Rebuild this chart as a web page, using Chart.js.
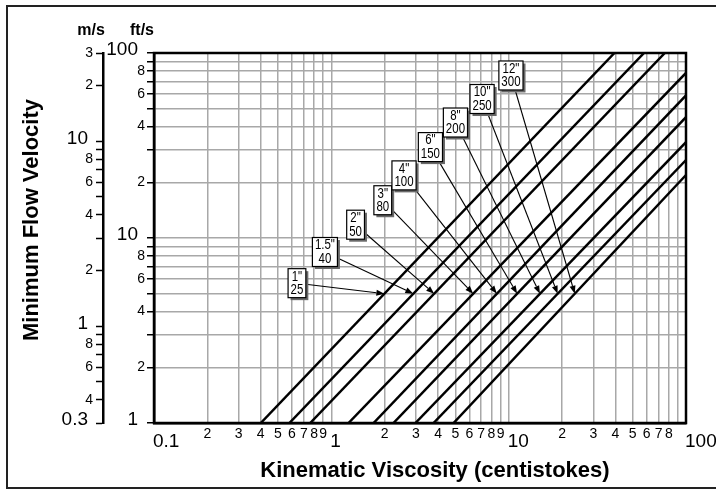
<!DOCTYPE html>
<html>
<head>
<meta charset="utf-8">
<script src="https://cdn.jsdelivr.net/npm/chart.js@4.4.1/dist/chart.umd.min.js"></script>
<style>
  html, body { margin: 0; padding: 0; background: #fff; }
  #wrap { width: 716px; height: 490px; }
</style>
</head>
<body>
<div id="wrap"><canvas id="flowChart" width="716" height="490"></canvas></div>
<script>
// pipe sizes: inch / mm
const pipeInch = ['1"', '1.5"', '2"', '3"', '4"', '6"', '8"', '10"', '12"'];
const pipeMm = ['25', '40', '50', '80', '100', '150', '200', '250', '300'];
// each line: viscosity (cSt) where it starts at 1 ft/s, and its end point
const startVisc = [0.40, 0.58, 0.76, 1.25, 1.73, 2.24, 2.98, 3.77, 4.89];
const endVisc = [39.5, 58, 76, 100, 100, 100, 100, 100, 100];
const endVel = [100, 100, 100, 78, 59, 45, 33, 26.4, 21.9];
// arrows point at this velocity (ft/s) on each line
const arrowVel = 5;
// where the label boxes sit (cSt, ft/s)
const boxVisc = [0.64, 0.92, 1.37, 1.95, 2.57, 3.62, 5.01, 7.08, 10.3];
const boxVel = [5.7, 8.4, 11.8, 16.0, 21.8, 31.0, 42.1, 56.4, 75.6];

// tick values and labels
const viscTicks = [0.1,0.2,0.3,0.4,0.5,0.6,0.7,0.8,0.9,1,2,3,4,5,6,7,8,9,10,20,30,40,50,60,70,80,90,100];
const viscLabels = ['0.1','2','3','4','5','6','7','8','9','1','2','3','4','5','6','7','8','9','10','2','3','4','5','6','7','8','','100'];
const ftTicks = [1,2,3,4,5,6,7,8,9,10,20,30,40,50,60,70,80,90,100];
const ftLabels = ['1','2','','4','','6','','8','','10','2','','4','','6','','8','','100'];
const msTicks = [0.3,0.4,0.5,0.6,0.7,0.8,0.9,1,2,3,4,5,6,7,8,9,10,20,30];
const msLabels = ['0.3','4','','6','','8','','1','2','','4','','6','','8','','10','2','3'];

const FONT = '"Liberation Sans", Arial, Helvetica, sans-serif';
const isBig = t => t.length > 1 || t === '1';

const datasets = pipeInch.map((p, i) => ({
  label: p + ' ' + pipeMm[i],
  data: [{x: startVisc[i], y: 1}, {x: endVisc[i], y: endVel[i]}],
  showLine: true,
  borderColor: '#000',
  borderWidth: 2.5,
  pointRadius: 0,
  fill: false
}));

// visc on the line at a given velocity (log interpolation)
function viscAt(i, vel) {
  const t = Math.log10(vel) / Math.log10(endVel[i]);
  return Math.pow(10, Math.log10(startVisc[i]) + t * (Math.log10(endVisc[i]) - Math.log10(startVisc[i])));
}

const decor = {
  id: 'decor',
  beforeDraw(chart) {
    const ctx = chart.ctx;
    ctx.save();
    ctx.strokeStyle = '#222';
    ctx.lineWidth = 2;
    ctx.strokeRect(7, 6, 740, 482);
    ctx.restore();
  },
  afterDatasetsDraw(chart) {
    const {ctx, chartArea: a, scales} = chart;
    const sx = scales.x, sy = scales.y, sm = scales.ms;
    ctx.save();

    // frame of the plot
    ctx.strokeStyle = '#000';
    ctx.lineWidth = 2.5;
    ctx.strokeRect(a.left, a.top, a.right - a.left, a.bottom - a.top);

    // x tick labels
    ctx.fillStyle = '#000';
    ctx.textBaseline = 'alphabetic';
    viscTicks.forEach((v, i) => {
      const t = viscLabels[i];
      if (!t) return;
      const px = sx.getPixelForValue(v);
      if (isBig(t)) {
        ctx.font = '19px ' + FONT;
        ctx.textAlign = 'left';
        ctx.fillText(t, px - 1, a.bottom + 24);
      } else {
        ctx.font = '14px ' + FONT;
        ctx.textAlign = 'center';
        ctx.fillText(t, px, a.bottom + 15);
      }
    });

    // ft/s tick labels
    ctx.textBaseline = 'middle';
    ctx.textAlign = 'right';
    ftTicks.forEach((v, i) => {
      const t = ftLabels[i];
      if (!t) return;
      const py = sy.getPixelForValue(v);
      if (isBig(t)) {
        ctx.font = '19px ' + FONT;
        ctx.fillText(t, a.left - 16, py - 3);
      } else {
        ctx.font = '14px ' + FONT;
        ctx.fillText(t, a.left - 9, py);
      }
    });

    // m/s tick labels
    msTicks.forEach((v, i) => {
      const t = msLabels[i];
      if (!t) return;
      const py = sm.getPixelForValue(v);
      if (isBig(t)) {
        ctx.font = '19px ' + FONT;
        ctx.fillText(t, sm.right - 15, py - 3);
      } else {
        ctx.font = '14px ' + FONT;
        ctx.fillText(t, sm.right - 10, py);
      }
    });

    // unit headers
    ctx.font = 'bold 16px ' + FONT;
    ctx.textAlign = 'center';
    ctx.textBaseline = 'alphabetic';
    ctx.fillText('m/s', 91, 35);
    ctx.fillText('ft/s', 142, 35);

    // axis titles
    ctx.font = 'bold 22px ' + FONT;
    ctx.fillText('Kinematic Viscosity (centistokes)', 435, 477);
    ctx.save();
    ctx.translate(38, 220);
    ctx.rotate(-Math.PI / 2);
    ctx.fillText('Minimum Flow Velocity', 0, 0);
    ctx.restore();

    // label boxes with arrows
    ctx.font = '14px ' + FONT;
    const squeeze = 0.82;
    pipeInch.forEach((p, i) => {
      const cx = sx.getPixelForValue(boxVisc[i]);
      const cy = sy.getPixelForValue(boxVel[i]);
      const w = Math.max(ctx.measureText(p).width, ctx.measureText(pipeMm[i]).width) * squeeze + 5;
      const h = 29;
      const tx = sx.getPixelForValue(viscAt(i, arrowVel));
      const ty = sy.getPixelForValue(arrowVel);
      // arrow start on box edge
      const dx = tx - cx, dy = ty - cy;
      const k = Math.min((w / 2) / Math.abs(dx), (h / 2) / Math.abs(dy));
      const x0 = cx + dx * k, y0 = cy + dy * k;
      const ang = Math.atan2(ty - y0, tx - x0);
      const hl = 8, hw = 3;
      ctx.strokeStyle = '#000';
      ctx.lineWidth = 1.1;
      ctx.beginPath();
      ctx.moveTo(x0, y0);
      ctx.lineTo(tx - hl * Math.cos(ang), ty - hl * Math.sin(ang));
      ctx.stroke();
      ctx.beginPath();
      ctx.moveTo(tx, ty);
      ctx.lineTo(tx - hl * Math.cos(ang) + hw * Math.sin(ang), ty - hl * Math.sin(ang) - hw * Math.cos(ang));
      ctx.lineTo(tx - hl * Math.cos(ang) - hw * Math.sin(ang), ty - hl * Math.sin(ang) + hw * Math.cos(ang));
      ctx.closePath();
      ctx.fillStyle = '#000';
      ctx.fill();

      // box: shadow, fill, border
      const bx = cx - w / 2, by = cy - h / 2;
      ctx.fillStyle = '#6a6a6a';
      ctx.fillRect(bx + 2.5, by + 2.5, w, h);
      ctx.fillStyle = '#fff';
      ctx.fillRect(bx, by, w, h);
      ctx.lineWidth = 1.2;
      ctx.strokeRect(bx, by, w, h);

      ctx.fillStyle = '#000';
      ctx.textAlign = 'center';
      ctx.textBaseline = 'middle';
      [p, pipeMm[i]].forEach((t, j) => {
        ctx.save();
        ctx.translate(cx, cy - 6.5 + j * 13.5);
        ctx.scale(squeeze, 1);
        ctx.fillText(t, 0, 0);
        ctx.restore();
      });
    });

    ctx.restore();
  }
};

const setTicks = list => scale => { scale.ticks = list.map(v => ({value: v})); };
const gridGray = '#a8a8a8';

new Chart(document.getElementById('flowChart'), {
  type: 'scatter',
  data: { datasets: datasets },
  options: {
    responsive: false,
    devicePixelRatio: 1,
    animation: false,
    layout: { padding: { top: 53, right: 30, left: 0, bottom: 0 } },
    plugins: { legend: { display: false }, tooltip: { enabled: false } },
    scales: {
      x: {
        type: 'logarithmic', min: 0.1, max: 100,
        afterBuildTicks: setTicks(viscTicks),
        ticks: { display: false },
        grid: { color: gridGray, lineWidth: 1.5, drawTicks: false },
        border: { color: '#000', width: 2.5 },
        afterFit: s => { s.height = 67; }
      },
      y: {
        type: 'logarithmic', position: 'left', min: 1, max: 100, weight: 0,
        afterBuildTicks: setTicks(ftTicks),
        ticks: { display: false },
        grid: { color: gridGray, lineWidth: 1.5, drawTicks: true, tickLength: 7, tickColor: '#000', tickWidth: 1.5 },
        border: { color: '#000', width: 2.5 },
        afterFit: s => { s.width = 51; }
      },
      ms: {
        type: 'logarithmic', position: 'left', min: 0.3, max: 30, weight: 1,
        afterBuildTicks: setTicks(msTicks),
        ticks: { display: false },
        grid: { drawOnChartArea: false, drawTicks: true, tickLength: 7, tickColor: '#000', tickWidth: 1.5 },
        border: { color: '#000', width: 2.5 },
        afterFit: s => { s.width = 103; }
      }
    }
  },
  plugins: [decor]
});
</script>
</body>
</html>
